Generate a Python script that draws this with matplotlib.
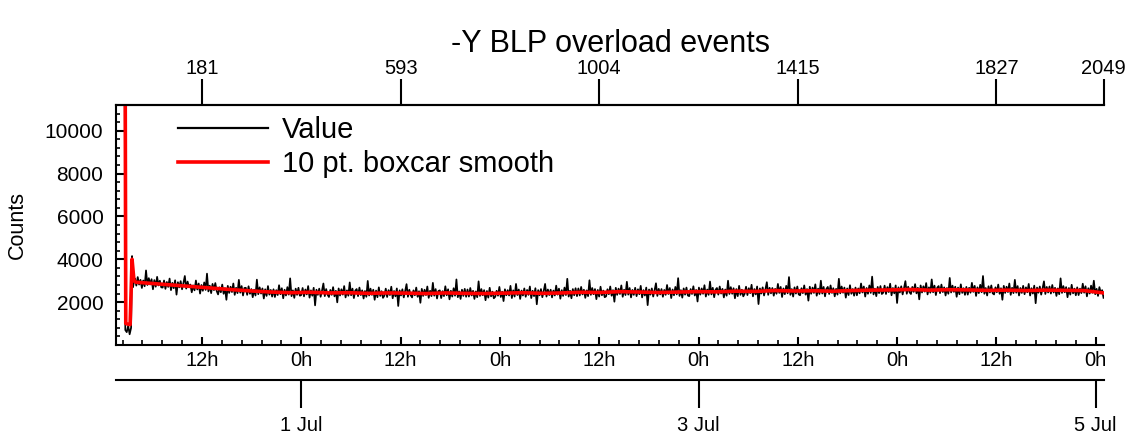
import numpy as np
import matplotlib.pyplot as plt
from matplotlib.ticker import FixedLocator, MultipleLocator

plt.rcParams['font.family'] = ['Liberation Sans', 'DejaVu Sans']

title = '-Y BLP overload events'

# sample index range shown, top-axis index ticks
first_index = 2.7
last_index = 2050
top_ticks = [181, 593, 1004, 1415, 1827, 2049]

# time base: sample 181 is 30 Jun 12h, ~411.5 samples per day
ref_index = 181
ref_hours = -12
samples_per_day = 411.5

hour_ticks = [-12, 0, 12, 24, 36, 48, 60, 72, 84, 96]
hour_labels = ['12h', '0h', '12h', '0h', '12h', '0h', '12h', '0h', '12h', '0h']
date_hours = [0, 48, 96]
date_labels = ['1 Jul', '3 Jul', '5 Jul']

# start of the run (saturated, then a dip and a spike)
start_idx = [3, 8, 14, 19, 22, 25, 28, 31, 34, 36, 38, 40]
start_value = [30000, 30000, 30000, 30000, 700, 600, 900, 500, 800, 4150, 2700, 2950]

# raw counts after the start, evenly spaced from index 42 to 2049
value = [
    3100, 2770, 3170, 2820, 3040, 2660, 3010, 2740, 3480, 2800, 3120, 2830, 3070, 2600, 3030, 2720, 3180, 2780, 3000, 2690,
    2680, 3010, 2620, 2940, 2710, 3100, 2560, 2900, 2650, 3020, 2350, 2930, 2690, 2980, 2600, 2890, 3220, 2630, 2960, 2700,
    2820, 2460, 2780, 2550, 3010, 2590, 2870, 2400, 2800, 2530, 2920, 2570, 3330, 2500, 2770, 2420, 2850, 2560, 2890, 2520,
    2360, 2690, 2460, 2820, 2390, 2650, 2110, 2760, 2430, 2720, 2470, 2870, 2340, 2670, 2420, 3040, 2440, 2750, 2310, 2660,
    2670, 2340, 2740, 2390, 2610, 2230, 2580, 2310, 3050, 2370, 2690, 2400, 2640, 2170, 2600, 2290, 2750, 2350, 2570, 2260,
    2600, 2240, 2560, 2330, 2790, 2370, 2650, 2180, 2580, 2310, 2700, 2350, 3110, 2280, 2550, 2200, 2630, 2340, 2670, 2300,
    2330, 2660, 2270, 2590, 2360, 2750, 2210, 2550, 2300, 2670, 1850, 2580, 2340, 2630, 2250, 2540, 2870, 2280, 2610, 2350,
    2240, 2570, 2340, 2700, 2270, 2530, 1990, 2640, 2310, 2600, 2350, 2750, 2220, 2550, 2300, 2920, 2320, 2630, 2190, 2540,
    2610, 2280, 2680, 2330, 2550, 2170, 2520, 2250, 2990, 2310, 2630, 2340, 2580, 2110, 2540, 2230, 2690, 2290, 2510, 2200,
    2300, 2630, 2240, 2560, 2330, 2720, 2180, 2520, 2270, 2640, 1820, 2550, 2310, 2600, 2220, 2510, 2840, 2250, 2580, 2320,
    2220, 2550, 2320, 2680, 2250, 2510, 1970, 2620, 2290, 2580, 2330, 2730, 2200, 2530, 2280, 2900, 2300, 2610, 2170, 2520,
    2550, 2190, 2510, 2280, 2740, 2320, 2600, 2130, 2530, 2260, 2650, 2300, 3060, 2230, 2500, 2150, 2580, 2290, 2620, 2250,
    2590, 2260, 2660, 2310, 2530, 2150, 2500, 2230, 2970, 2290, 2610, 2320, 2560, 2090, 2520, 2210, 2670, 2270, 2490, 2180,
    2250, 2530, 2300, 2710, 2240, 2490, 2050, 2600, 2320, 2560, 2310, 2760, 2190, 2550, 2260, 2850, 2330, 2590, 2150, 2540,
    2310, 2640, 2250, 2570, 2340, 2730, 2190, 2530, 2280, 2650, 1900, 2560, 2320, 2610, 2230, 2520, 2850, 2260, 2590, 2330,
    2580, 2220, 2540, 2310, 2770, 2350, 2630, 2160, 2560, 2290, 2680, 2330, 3090, 2260, 2530, 2180, 2610, 2320, 2650, 2280,
    2640, 2310, 2710, 2360, 2580, 2200, 2550, 2280, 3020, 2340, 2660, 2370, 2610, 2140, 2570, 2260, 2720, 2320, 2540, 2230,
    2270, 2600, 2370, 2730, 2300, 2560, 2020, 2670, 2340, 2630, 2380, 2780, 2250, 2580, 2330, 2950, 2350, 2660, 2220, 2570,
    2340, 2670, 2280, 2600, 2370, 2760, 2220, 2560, 2310, 2680, 1860, 2590, 2350, 2640, 2260, 2550, 2880, 2290, 2620, 2360,
    2610, 2250, 2570, 2340, 2800, 2380, 2660, 2190, 2590, 2320, 2710, 2360, 3120, 2290, 2560, 2210, 2640, 2350, 2680, 2310,
    2280, 2610, 2380, 2740, 2310, 2570, 2030, 2680, 2350, 2640, 2390, 2790, 2260, 2590, 2340, 2960, 2360, 2670, 2230, 2580,
    2660, 2350, 2730, 2400, 2620, 2220, 2590, 2300, 3000, 2380, 2700, 2390, 2650, 2180, 2610, 2280, 2760, 2340, 2580, 2270,
    2390, 2720, 2330, 2650, 2420, 2810, 2270, 2610, 2360, 2730, 1910, 2640, 2400, 2690, 2310, 2600, 2930, 2340, 2670, 2410,
    2660, 2300, 2620, 2390, 2850, 2430, 2710, 2240, 2640, 2370, 2760, 2410, 3170, 2340, 2610, 2260, 2690, 2400, 2730, 2360,
    2320, 2650, 2420, 2780, 2350, 2610, 2070, 2720, 2390, 2680, 2430, 2830, 2300, 2630, 2380, 3000, 2400, 2710, 2270, 2620,
    2710, 2380, 2780, 2430, 2650, 2270, 2620, 2350, 3090, 2410, 2730, 2440, 2680, 2210, 2640, 2330, 2790, 2390, 2610, 2300,
    2680, 2320, 2640, 2410, 2870, 2450, 2730, 2260, 2660, 2390, 2780, 2430, 3190, 2360, 2630, 2280, 2710, 2420, 2750, 2380,
    2440, 2770, 2380, 2700, 2470, 2860, 2320, 2660, 2410, 2780, 1960, 2690, 2450, 2740, 2360, 2650, 2980, 2390, 2720, 2460,
    2380, 2710, 2480, 2840, 2410, 2670, 2130, 2780, 2450, 2740, 2490, 2890, 2360, 2690, 2440, 3060, 2460, 2770, 2330, 2680,
    2750, 2420, 2820, 2470, 2690, 2310, 2660, 2390, 3130, 2450, 2770, 2480, 2720, 2250, 2680, 2370, 2830, 2430, 2650, 2340,
    2710, 2350, 2670, 2440, 2900, 2480, 2760, 2290, 2690, 2420, 2810, 2460, 3220, 2390, 2660, 2310, 2740, 2450, 2780, 2410,
    2360, 2690, 2460, 2820, 2390, 2650, 2110, 2760, 2430, 2720, 2470, 2870, 2340, 2670, 2420, 3040, 2440, 2750, 2310, 2660,
    2430, 2760, 2370, 2690, 2460, 2850, 2310, 2650, 2400, 2770, 1950, 2680, 2440, 2730, 2350, 2640, 2970, 2380, 2710, 2450,
    2730, 2400, 2800, 2450, 2670, 2290, 2640, 2370, 3110, 2430, 2750, 2460, 2700, 2230, 2660, 2350, 2810, 2410, 2630, 2320,
    2690, 2330, 2630, 2420, 2860, 2440, 2740, 2270, 2650, 2400, 2770, 2440, 3000, 2370, 2620, 2290, 2700, 2430, 2560, 2200,
]

# 10 pt boxcar smooth
smooth_start_idx = [3, 20, 23, 32, 36, 40]
smooth_start = [30000, 30000, 1000, 950, 4000, 3000]
smooth = [
    2930, 2860, 2790, 2720, 2650, 2580, 2520, 2470, 2440, 2460, 2430, 2440, 2410, 2430, 2420, 2400, 2430,
    2410, 2400, 2420, 2440, 2410, 2430, 2460, 2450, 2490, 2470, 2450, 2470, 2490, 2480, 2510, 2500, 2540,
    2520, 2530, 2510, 2540, 2560, 2570, 2590, 2560, 2580, 2570, 2550, 2560, 2540, 2560, 2550, 2540, 2430,
]


def hours_to_index(h):
    return ref_index + (np.asarray(h) - ref_hours) * samples_per_day / 24.0


x_val = np.concatenate([start_idx, np.linspace(42, 2049, len(value))])
y_val = np.concatenate([start_value, value])
x_sm = np.concatenate([smooth_start_idx, np.linspace(44, 2049, len(smooth))])
y_sm = np.concatenate([smooth_start, smooth])

fig = plt.figure(figsize=(11.37, 4.41), dpi=100)
ax = fig.add_axes([0.1020, 0.2177, 0.8690, 0.5442])

ax.plot(x_val, y_val, color='black', lw=1.25, label='Value')
ax.plot(x_sm, y_sm, color='red', lw=2.6, label='10 pt. boxcar smooth')

ax.set_xlim(first_index, last_index)
ax.set_ylim(0, 11200)

for s in ['left', 'bottom', 'top']:
    ax.spines[s].set_linewidth(1.5)
ax.spines['right'].set_visible(False)

# y axis
ax.yaxis.set_major_locator(FixedLocator([2000, 4000, 6000, 8000, 10000]))
ax.yaxis.set_minor_locator(MultipleLocator(400))
ax.tick_params(axis='y', which='major', direction='in', length=6, width=1.5, labelsize=15, pad=9, right=False)
ax.tick_params(axis='y', which='minor', direction='in', length=3, width=1.2, right=False)
ax.set_ylabel('Counts', fontsize=15.5, labelpad=12)

# bottom: hours of day
ax.xaxis.set_major_locator(FixedLocator(hours_to_index(hour_ticks)))
ax.set_xticklabels(hour_labels)
minor_h = np.arange(-21.6, 97.0, 2.4)
ax.xaxis.set_minor_locator(FixedLocator(hours_to_index(minor_h)))
ax.tick_params(axis='x', which='major', direction='in', length=6, width=1.5, labelsize=14.5, pad=4, top=False)
ax.tick_params(axis='x', which='minor', direction='in', length=3.5, width=1.2, top=False)

# top: sample index
top = ax.secondary_xaxis('top')
top.set_xticks(top_ticks)
top.set_xticklabels([str(t) for t in top_ticks])
top.tick_params(direction='out', length=19, width=1.5, labelsize=14.5, pad=0.5)
top.spines['top'].set_linewidth(1.5)

# lower date axis
dates = ax.secondary_xaxis(-0.146)
dates.set_xticks(hours_to_index(date_hours))
dates.set_xticklabels(date_labels)
dates.tick_params(direction='out', length=20, width=1.5, labelsize=14.5, pad=6)
dates.spines['bottom'].set_linewidth(1.5)

leg = ax.legend(loc='upper left', bbox_to_anchor=(0.0628, 0.9525), frameon=False,
                fontsize=21, handlelength=3.1, handletextpad=0.45, labelspacing=0.2,
                borderpad=0, borderaxespad=0)
leg.get_lines()[0].set_linewidth(1.6)

fig.text(0.5365, 0.9, title, ha='center', va='center', fontsize=22)

fig.savefig('out.png', dpi=100)
